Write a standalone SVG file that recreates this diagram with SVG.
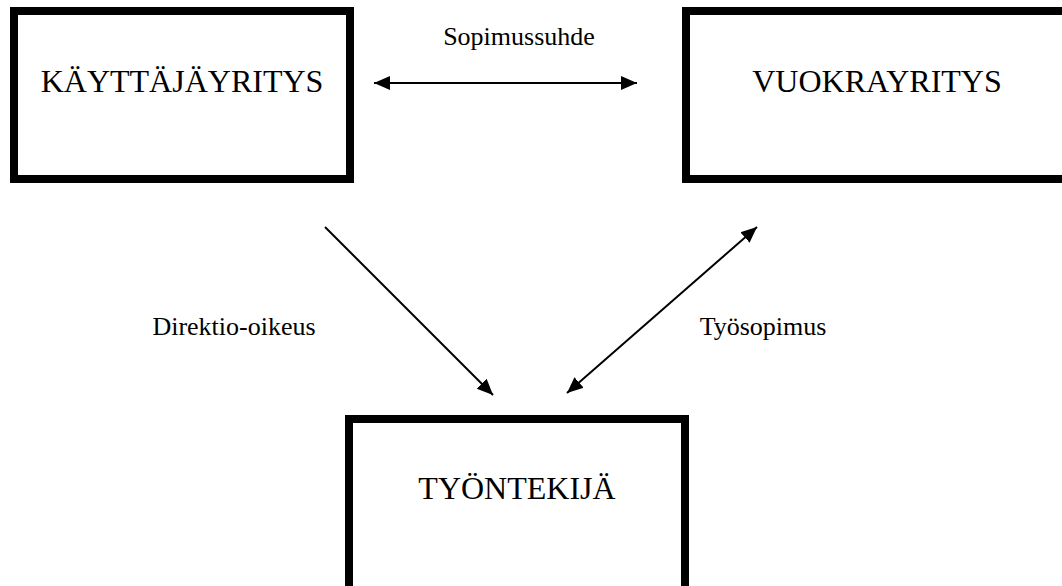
<svg xmlns="http://www.w3.org/2000/svg" width="1062" height="586" viewBox="0 0 1062 586">
<style>
.box{fill:#fff;stroke:#000;stroke-width:8}
.big{font-family:"Liberation Serif","Times New Roman",serif;font-size:32px;fill:#000;text-anchor:middle}
.lbl{font-family:"Liberation Serif","Times New Roman",serif;font-size:26px;fill:#000;text-anchor:middle}
.con{stroke:#000;stroke-width:2;fill:none}
</style>
<defs>
<marker id="ah" markerUnits="userSpaceOnUse" markerWidth="16" markerHeight="16" viewBox="0 0 16 14" refX="16" refY="7" orient="auto-start-reverse">
<path d="M0,0 L16,7 L0,14 Z" fill="#000"/>
</marker>
</defs>
<rect width="1062" height="586" fill="#fff"/>
<g id="kayttajayritys">
<rect class="box" x="14" y="11" width="336" height="168"/>
<text class="big" x="182" y="92">KÄYTTÄJÄYRITYS</text>
</g>
<g id="vuokrayritys">
<rect class="box" x="686" y="11" width="400" height="168"/>
<text class="big" x="877" y="92">VUOKRAYRITYS</text>
</g>
<g id="tyontekija">
<rect class="box" x="349" y="419" width="336" height="172"/>
<text class="big" x="517" y="499">TYÖNTEKIJÄ</text>
</g>
<g id="connectors">
<line class="con" x1="374" y1="83" x2="637" y2="83" marker-start="url(#ah)" marker-end="url(#ah)"/>
<line class="con" x1="325" y1="227" x2="493" y2="395" marker-end="url(#ah)"/>
<line class="con" x1="757" y1="227" x2="567" y2="393" marker-start="url(#ah)" marker-end="url(#ah)"/>
<text class="lbl" x="519" y="45">Sopimussuhde</text>
<text class="lbl" x="234" y="335">Direktio-oikeus</text>
<text class="lbl" x="763" y="335">Työsopimus</text>
</g>
</svg>
